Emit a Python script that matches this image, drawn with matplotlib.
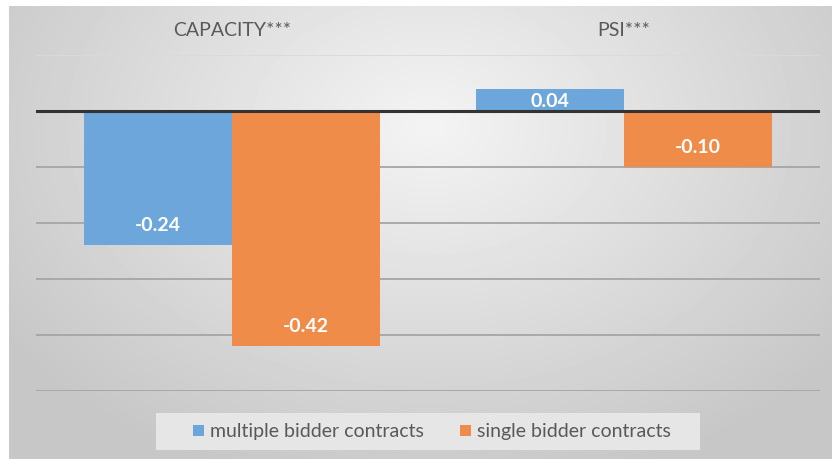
import matplotlib

matplotlib.use("Agg")
import matplotlib.pyplot as plt
import matplotlib.transforms as mtransforms
from matplotlib.patches import Rectangle
import numpy as np

categories = ["CAPACITY***", "PSI***"]
series_names = ["multiple bidder contracts", "single bidder contracts"]
multiple_vals = [-0.24, 0.04]
single_vals = [-0.42, -0.10]

colors = ["#6ca6da", "#ef8c4a"]
plt.rcParams["font.family"] = ["Lato", "DejaVu Sans"]

W, H = 832, 459
fig = plt.figure(figsize=(W / 100, H / 100), dpi=100)
fig.patch.set_facecolor("white")

# soft radial gradient behind the chart (Excel style)
bg = fig.add_axes([9 / W, 0, 1 - 9 / W, 1 - 6 / H], zorder=-5)
yy, xx = np.mgrid[0:H - 6, 0:W - 9]
d = np.sqrt(((xx - 420) / 500.0) ** 2 + ((yy - 120) / 360.0) ** 2)
shade = np.clip(0.955 - 0.17 * d, 0.78, 1.0)
bg.imshow(shade, cmap="gray", vmin=0, vmax=1, aspect="auto", interpolation="bilinear")
bg.axis("off")

ax = fig.add_axes([36 / W, (H - 391) / H, (820 - 36) / W, (391 - 55) / H])
ax.patch.set_alpha(0)

x = np.arange(len(categories))
width = 148 / 392
for i, (vals, name) in enumerate(zip([multiple_vals, single_vals], series_names)):
    offs = (i - 0.5) * width
    bars = ax.bar(x + offs, vals, width, color=colors[i], label=name, zorder=2)
    for b, v in zip(bars, vals):
        ax.annotate(f"{v:.2f}", (b.get_x() + b.get_width() / 2, v),
                    xytext=(0, -9 if v >= 0 else 14), textcoords="offset points",
                    ha="center", va="center", color="white", fontsize=14,
                    fontweight="bold", zorder=3)

ax.set_xlim(-0.5, 1.5)
ax.set_ylim(-0.5, 0.1)
for gy in np.arange(-0.5, 0.11, 0.1):
    if abs(gy) < 1e-9:
        continue
    c = "#dadada" if gy > 0.05 else "#a5a5a5"
    ax.axhline(gy, color=c, lw=1.3, zorder=1)
ax.axhline(0, color="#333333", lw=2.2, zorder=4)

for s in ax.spines.values():
    s.set_visible(False)
ax.set_xticks([])
ax.set_yticks([])

trans = mtransforms.blended_transform_factory(ax.transData, fig.transFigure)
for xi, cat in zip(x, categories):
    ax.text(xi, (H - 30) / H, cat, transform=trans, ha="center", va="center",
            fontsize=14, color="#595959")

# legend panel
fig.patches.append(Rectangle((156 / W, (H - 450) / H), (700 - 156) / W, 37 / H,
                             transform=fig.transFigure, facecolor="#e6e6e6",
                             edgecolor="none", zorder=-1))
leg = fig.legend(loc="center", bbox_to_anchor=(432 / W, (H - 432) / H), ncol=2,
                 fontsize=14, frameon=False, handlelength=0.55, handleheight=0.55,
                 handletextpad=0.3, columnspacing=1.9)
for t in leg.get_texts():
    t.set_color("#595959")

fig.savefig("out.png", dpi=100)
